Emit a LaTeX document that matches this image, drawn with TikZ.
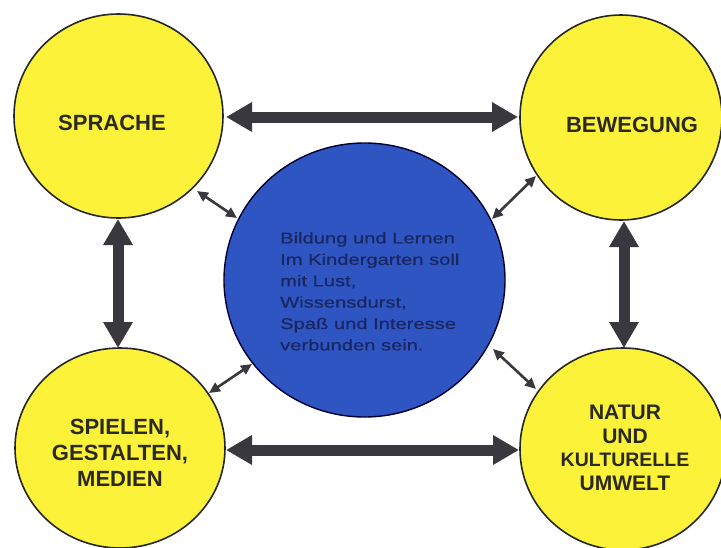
\documentclass[tikz,border=0pt]{standalone}
\usepackage{fontspec}
\setmainfont{Liberation Sans}
\newfontfamily\centerfont[FakeStretch=1.3,FakeBold=0.5]{Liberation Sans}
\usetikzlibrary{arrows.meta}
\definecolor{circyellow}{HTML}{FCF23A}
\definecolor{circblue}{HTML}{2E55C2}
\definecolor{arrowgray}{HTML}{38383E}
\definecolor{labeltext}{HTML}{2A2A20}
\definecolor{centertext}{HTML}{1A2660}
\tikzset{
  topic/.style={ellipse, draw=black!85, line width=1.6pt, fill=circyellow},
  topiclabel/.style={font=\bfseries\fontsize{22}{26}\selectfont, text=labeltext, align=center},
  core/.style={draw=black!80!blue, line width=1.4pt, fill=circblue},
  bigarrow/.style={draw=arrowgray, line width=11pt, {Triangle[width=28pt,length=26pt]}-{Triangle[width=28pt,length=26pt]}},
  smallarrow/.style={draw=arrowgray, line width=2.6pt, {Triangle[width=10pt,length=11pt]}-{Triangle[width=10pt,length=11pt]}}
}
\usetikzlibrary{shapes.geometric}
\begin{document}
\begin{tikzpicture}[x=1pt,y=-1pt]
\useasboundingbox (0,0) rectangle (721,547);
\fill[white] (0,0) rectangle (721,547);
% circles
\draw[topic] (118.5,116) ellipse [x radius=104.5, y radius=102];
\draw[topic] (621,117.5) ellipse [x radius=101, y radius=102.5];
\draw[topic] (120,448) ellipse [x radius=105, y radius=100];
\draw[topic] (623,449) ellipse [x radius=103, y radius=101];
\draw[core] (364.5,280) ellipse [x radius=140.5, y radius=137];
% labels
\node[topiclabel] (sprache) at (112,123) {SPRACHE};
\node[topiclabel] (bewegung) at (632,125) {BEWEGUNG};
\node[topiclabel] (spielen) at (120,453) {SPIELEN,\\GESTALTEN,\\MEDIEN};
\node[topiclabel, font=\bfseries\fontsize{21}{23.7}\selectfont] (natur) at (625,448) {NATUR\\UND\\{\fontsize{19.5}{23.7}\selectfont KULTURELLE}\\UMWELT};
\node[anchor=north west, inner sep=0pt, text=centertext, align=left,
      font=\centerfont\fontsize{15.5}{21.4}\selectfont] (core) at (280,232)
  {Bildung und Lernen\\Im Kindergarten soll\\mit Lust,\\Wissensdurst,\\Spaß und Interesse\\verbunden sein.};
% anchors for connectors
\coordinate (spR) at (226,117);
\coordinate (beL) at (518,117);
\coordinate (spB) at (118,219);
\coordinate (giT) at (118,348);
\coordinate (beB) at (624,221);
\coordinate (naT) at (624,348);
\coordinate (giR) at (226,450);
\coordinate (naL) at (519,450);
\coordinate (a1) at (197,191);
\coordinate (b1) at (237,218);
\coordinate (a2) at (536,176);
\coordinate (b2) at (492,219);
\coordinate (a3) at (209,393);
\coordinate (b3) at (252,364);
\coordinate (a4) at (493,349);
\coordinate (b4) at (536,389);
% connectors
\draw[bigarrow] (spR) -- (beL);
\draw[bigarrow] (giR) -- (naL);
\draw[bigarrow] (spB) -- (giT);
\draw[bigarrow] (beB) -- (naT);
\draw[smallarrow] (a1) -- (b1);
\draw[smallarrow] (a2) -- (b2);
\draw[smallarrow] (a3) -- (b3);
\draw[smallarrow] (a4) -- (b4);
\end{tikzpicture}
\end{document}
